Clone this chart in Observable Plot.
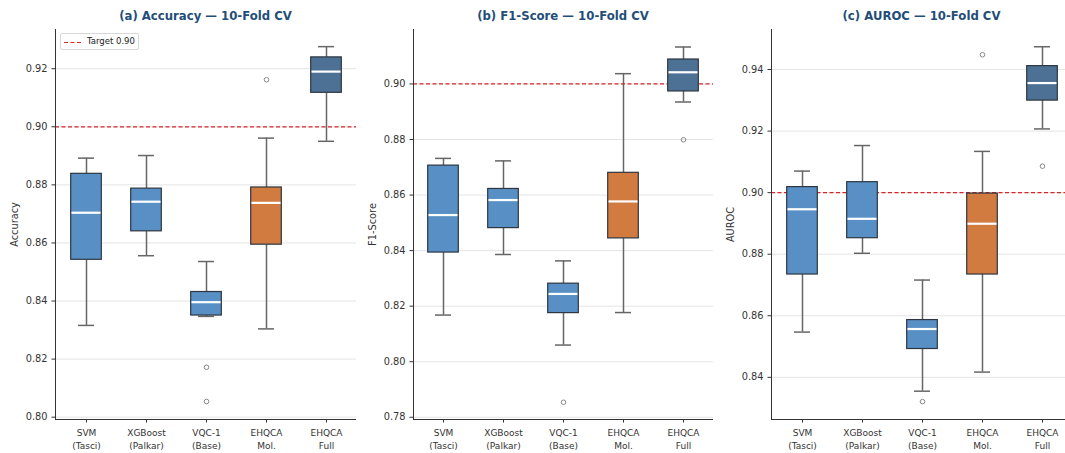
<!DOCTYPE html>
<html>
<head>
<meta charset="utf-8">
<script src="https://cdn.jsdelivr.net/npm/d3@7"></script>
<script src="https://cdn.jsdelivr.net/npm/@observablehq/plot@0.6"></script>
<style>
  html, body { margin: 0; padding: 0; background: #fff; }
  #wrap { position: relative; width: 1065px; height: 453px; overflow: hidden; font-family: "DejaVu Sans", sans-serif; }
  .panel { position: absolute; top: 0; height: 453px; }
  .title { position: absolute; top: 9px; left: 0; right: 0; font-size: 11.7px; font-weight: bold; color: #1F4E79; text-align: center; line-height: 14px; white-space: nowrap; }
  .panel svg { position: absolute; top: 24px; left: 0; }
  .legend { position: absolute; left: 60px; top: 33px; width: 79px; height: 17px; background: #fff; border: 1px solid #d8d8d8; border-radius: 2px; box-sizing: border-box; font-size: 8.5px; color: #222; }
  .legend svg { position: absolute; left: 3px; top: 7px; }
  .legend span { position: absolute; left: 26px; top: 2px; line-height: 11px; }
</style>
</head>
<body>
<div id="wrap"></div>
<script>
// ---- Data ----
const models = ["SVM\n(Tasci)", "XGBoost\n(Palkar)", "VQC-1\n(Base)", "EHQCA\nMol.", "EHQCA\nFull"];
const modelColors = ["#5890C5", "#5890C5", "#5890C5", "#D17B41", "#4C7194"];
const target = 0.90;

// (a) Accuracy
const accLow    = [0.8316, 0.8556, 0.8347, 0.8304, 0.8950];
const accQ1     = [0.8542, 0.8640, 0.8350, 0.8594, 0.9117];
const accMedian = [0.8704, 0.8742, 0.8396, 0.8738, 0.9190];
const accQ3     = [0.8838, 0.8787, 0.8431, 0.8791, 0.9239];
const accHigh   = [0.8892, 0.8901, 0.8536, 0.8961, 0.9276];
const accOutlierModel = [2, 2, 3];
const accOutlierValue = [0.8172, 0.8054, 0.9162];
const accTicks = [0.80, 0.82, 0.84, 0.86, 0.88, 0.90, 0.92];

// (b) F1-Score
const f1Low    = [0.8168, 0.8386, 0.8060, 0.8177, 0.8935];
const f1Q1     = [0.8393, 0.8481, 0.8175, 0.8444, 0.8973];
const f1Median = [0.8528, 0.8582, 0.8244, 0.8577, 0.9042];
const f1Q3     = [0.8706, 0.8622, 0.8281, 0.8680, 0.9088];
const f1High   = [0.8732, 0.8723, 0.8363, 0.9037, 0.9133];
const f1OutlierModel = [2, 4];
const f1OutlierValue = [0.7854, 0.8799];
const f1Ticks = [0.78, 0.80, 0.82, 0.84, 0.86, 0.88, 0.90];

// (c) AUROC
const aucLow    = [0.8547, 0.8803, 0.8355, 0.8417, 0.9207];
const aucQ1     = [0.8734, 0.8852, 0.8492, 0.8734, 0.9299];
const aucMedian = [0.8946, 0.8915, 0.8557, 0.8899, 0.9356];
const aucQ3     = [0.9018, 0.9034, 0.8586, 0.8997, 0.9411];
const aucHigh   = [0.9070, 0.9153, 0.8716, 0.9134, 0.9474];
const aucOutlierModel = [2, 3, 4];
const aucOutlierValue = [0.8321, 0.9448, 0.9086];
const aucTicks = [0.84, 0.86, 0.88, 0.90, 0.92, 0.94];

// ---- Build ----
function rowsOf(low, q1, med, q3, high) {
  return models.map((m, i) => ({model: m, color: modelColors[i], low: low[i], q1: q1[i], median: med[i], q3: q3[i], high: high[i]}));
}
function outliersOf(idx, vals) {
  return idx.map((k, i) => ({model: models[k], value: vals[i]}));
}

const panels = [
  {title: "(a) Accuracy — 10-Fold CV", label: "Accuracy", left: 0, width: 356, ml: 55, domain: [0.7992, 0.9335], ticks: accTicks,
   rows: rowsOf(accLow, accQ1, accMedian, accQ3, accHigh), out: outliersOf(accOutlierModel, accOutlierValue), legend: true},
  {title: "(b) F1-Score — 10-Fold CV", label: "F1-Score", left: 356, width: 357, ml: 57, domain: [0.7792, 0.9196], ticks: f1Ticks,
   rows: rowsOf(f1Low, f1Q1, f1Median, f1Q3, f1High), out: outliersOf(f1OutlierModel, f1OutlierValue)},
  {title: "(c) AUROC — 10-Fold CV", label: "AUROC", left: 713, width: 359, ml: 58, domain: [0.8263, 0.9530], ticks: aucTicks,
   rows: rowsOf(aucLow, aucQ1, aucMedian, aucQ3, aucHigh), out: outliersOf(aucOutlierModel, aucOutlierValue)}
];

const wrap = document.getElementById("wrap");
const whisker = "#666";
const edge = "#2d3640";

for (const p of panels) {
  const div = document.createElement("div");
  div.className = "panel";
  div.style.left = p.left + "px";
  div.style.width = p.width + "px";
  const t = document.createElement("div");
  t.className = "title";
  t.style.paddingLeft = p.ml + "px";
  t.textContent = p.title;
  div.appendChild(t);

  const chart = Plot.plot({
    width: p.width,
    height: 429,
    marginTop: 5,
    marginBottom: 34,
    marginLeft: p.ml,
    marginRight: 0,
    style: {fontFamily: "DejaVu Sans, sans-serif", color: "#333", background: "transparent"},
    x: {type: "band", domain: models, padding: 0},
    y: {domain: p.domain},
    color: {type: "identity"},
    marks: [
      Plot.gridY(p.ticks, {stroke: "#e4e4e4", strokeOpacity: 1, strokeWidth: 1}),
      Plot.axisY(p.ticks, {tickFormat: d3.format(".2f"), tickSize: 3.5, tickPadding: 4.5, fontSize: 9.8, label: p.label, labelAnchor: "center", labelOffset: 44, labelArrow: "none", stroke: "#333"}),
      Plot.axisX({tickSize: 3.5, tickPadding: 4, fontSize: 9, lineHeight: 1.4, label: null, stroke: "#333"}),
      Plot.ruleX(p.rows, {x: "model", y1: "low", y2: "q1", stroke: whisker, strokeWidth: 1.5}),
      Plot.ruleX(p.rows, {x: "model", y1: "q3", y2: "high", stroke: whisker, strokeWidth: 1.5}),
      Plot.tickY(p.rows, {x: "model", y: "low", stroke: whisker, strokeWidth: 1.5, insetLeft: 22, insetRight: 22}),
      Plot.tickY(p.rows, {x: "model", y: "high", stroke: whisker, strokeWidth: 1.5, insetLeft: 22, insetRight: 22}),
      Plot.ruleY([target], {stroke: "#d62728", strokeWidth: 1.2, strokeDasharray: "4,2.5"}),
      Plot.barY(p.rows, {x: "model", y1: "q1", y2: "q3", fill: "color", stroke: edge, strokeWidth: 1.2, insetLeft: 14.7, insetRight: 14.7}),
      Plot.tickY(p.rows, {x: "model", y: "median", stroke: "white", strokeWidth: 2.2, insetLeft: 15.5, insetRight: 15.5}),
      Plot.dot(p.out, {x: "model", y: "value", r: 2.3, stroke: "#888", fill: "none", strokeWidth: 1}),
      Plot.frame({anchor: "left", stroke: "#333", strokeWidth: 1}),
      Plot.frame({anchor: "bottom", stroke: "#333", strokeWidth: 1})
    ]
  });
  div.appendChild(chart);

  if (p.legend) {
    const lg = document.createElement("div");
    lg.className = "legend";
    lg.innerHTML = '<svg width="20" height="3"><line x1="0" y1="1.5" x2="18" y2="1.5" stroke="#d62728" stroke-width="1.2" stroke-dasharray="4,2.5"/></svg><span>Target 0.90</span>';
    div.appendChild(lg);
  }
  wrap.appendChild(div);
}
</script>
</body>
</html>
